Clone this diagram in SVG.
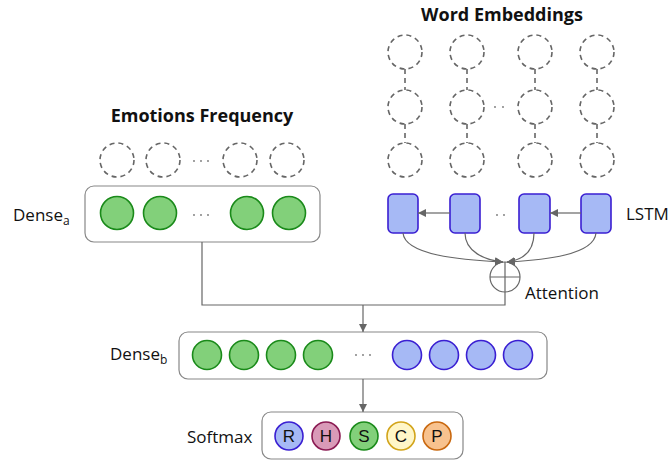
<svg xmlns="http://www.w3.org/2000/svg" width="670" height="460" viewBox="0 0 670 460">
<defs>
<marker id="ah" viewBox="0 0 10 10" refX="10" refY="5" markerWidth="8" markerHeight="8" markerUnits="userSpaceOnUse" orient="auto">
<path d="M0,0 L10,5 L0,10 z" fill="#666"/>
</marker>
<style>
.t{font-family:"Open Sans","Noto Sans",sans-serif;font-size:17px;fill:#111}
.tb{font-family:"Open Sans","Noto Sans",sans-serif;font-size:18px;font-weight:bold;fill:#111}
.sub{font-family:"Open Sans","Noto Sans",sans-serif;font-size:12px;fill:#111}
.lt{font-family:"Liberation Sans",Arial,sans-serif;font-size:17px;fill:#111;text-anchor:middle}
.dash{fill:none;stroke:#666;stroke-width:1.6;stroke-dasharray:5 4}
.box{fill:#fff;stroke:#888;stroke-width:1.2}
.g{fill:#82d07a;stroke:#1a8a1a;stroke-width:1.6}
.b{fill:#a6b9f5;stroke:#3a1fd2;stroke-width:1.6}
.h{fill:#d99ab8;stroke:#8a1a52;stroke-width:1.6}
.c{fill:#fff6c8;stroke:#d2a41a;stroke-width:1.6}
.p{fill:#f8c28e;stroke:#c9680f;stroke-width:1.6}
.ln{fill:none;stroke:#666;stroke-width:1.2}
.dot{fill:#777}
</style>
</defs>

<g id="word-embeddings">
<text class="tb" x="502" y="21" text-anchor="middle">Word Embeddings</text>
<circle class="dash" cx="405" cy="52" r="17"/><circle class="dash" cx="405" cy="107" r="17"/><circle class="dash" cx="405" cy="160" r="17"/>
<circle class="dash" cx="467" cy="52" r="17"/><circle class="dash" cx="467" cy="107" r="17"/><circle class="dash" cx="467" cy="160" r="17"/>
<circle class="dash" cx="535" cy="52" r="17"/><circle class="dash" cx="535" cy="107" r="17"/><circle class="dash" cx="535" cy="160" r="17"/>
<circle class="dash" cx="597" cy="52" r="17"/><circle class="dash" cx="597" cy="107" r="17"/><circle class="dash" cx="597" cy="160" r="17"/>
<path class="dash" d="M405,69V90M405,124V143M467,69V90M467,124V143M535,69V90M535,124V143M597,69V90M597,124V143" stroke-dasharray="6 5"/>
<circle class="dot" cx="495" cy="107" r="0.9"/><circle class="dot" cx="503" cy="107" r="0.9"/>
</g>

<g id="emotions-frequency">
<text class="tb" x="202" y="122" text-anchor="middle">Emotions Frequency</text>
<circle class="dash" cx="117" cy="160" r="17"/><circle class="dash" cx="163" cy="160" r="17"/>
<circle class="dash" cx="240" cy="160" r="17"/><circle class="dash" cx="287" cy="160" r="17"/>
<circle class="dot" cx="194" cy="161" r="0.9"/><circle class="dot" cx="201" cy="161" r="0.9"/><circle class="dot" cx="208" cy="161" r="0.9"/>
</g>

<g id="dense-a">
<rect class="box" x="85" y="186" width="235" height="56" rx="9"/>
<circle class="g" cx="117" cy="213" r="16.5"/><circle class="g" cx="160" cy="213" r="16.5"/>
<circle class="g" cx="247" cy="213" r="16.5"/><circle class="g" cx="289" cy="213" r="16.5"/>
<circle class="dot" cx="194" cy="215" r="0.9"/><circle class="dot" cx="201" cy="215" r="0.9"/><circle class="dot" cx="208" cy="215" r="0.9"/>
<text class="t" x="13" y="221">Dense<tspan class="sub" dy="4">a</tspan></text>
</g>

<g id="lstm">
<rect class="b" x="388" y="194" width="30" height="39" rx="5"/>
<rect class="b" x="450" y="194" width="30" height="39" rx="5"/>
<rect class="b" x="519" y="194" width="31" height="39" rx="5"/>
<rect class="b" x="581" y="194" width="30" height="39" rx="5"/>
<circle class="dot" cx="497" cy="215" r="0.9"/><circle class="dot" cx="504" cy="215" r="0.9"/>
<text class="t" x="626" y="220">LSTM</text>
</g>

<g id="attention">
<circle cx="505" cy="277" r="15" fill="#fff" stroke="#666" stroke-width="1.2"/>
<path class="ln" d="M490,277H520M505,262V292"/>
<text class="t" x="525" y="299">Attention</text>
</g>

<g id="dense-b">
<rect class="box" x="179" y="332" width="368" height="47" rx="9"/>
<circle class="g" cx="207" cy="355" r="14.5"/><circle class="g" cx="244" cy="355" r="14.5"/>
<circle class="g" cx="281" cy="355" r="14.5"/><circle class="g" cx="318" cy="355" r="14.5"/>
<circle class="b" cx="407" cy="355" r="14.5"/><circle class="b" cx="444" cy="355" r="14.5"/>
<circle class="b" cx="481" cy="355" r="14.5"/><circle class="b" cx="518" cy="355" r="14.5"/>
<circle class="dot" cx="356" cy="355" r="0.9"/><circle class="dot" cx="363" cy="355" r="0.9"/><circle class="dot" cx="370" cy="355" r="0.9"/>
<text class="t" x="110" y="360">Dense<tspan class="sub" dy="4">b</tspan></text>
</g>

<g id="softmax">
<rect class="box" x="262" y="412" width="201" height="47" rx="9"/>
<circle class="b" cx="289" cy="436" r="14"/><text class="lt" x="289" y="442">R</text>
<circle class="h" cx="326" cy="436" r="14"/><text class="lt" x="326" y="442">H</text>
<circle class="g" cx="364" cy="436" r="14"/><text class="lt" x="364" y="442">S</text>
<circle class="c" cx="401" cy="436" r="14"/><text class="lt" x="401" y="442">C</text>
<circle class="p" cx="437" cy="436" r="14"/><text class="lt" x="437" y="442">P</text>
<text class="t" x="187" y="443">Softmax</text>
</g>

<g id="connectors">
<path class="ln" d="M450,213H418" marker-end="url(#ah)"/>
<path class="ln" d="M581,213H550" marker-end="url(#ah)"/>
<path class="ln" d="M403,233C405,255 460,260 503,262" marker-end="url(#ah)"/>
<path class="ln" d="M465,233C465,252 485,260 503,262" marker-end="url(#ah)"/>
<path class="ln" d="M534,233C534,252 522,260 507,262" marker-end="url(#ah)"/>
<path class="ln" d="M596,233C594,255 545,260 507,262" marker-end="url(#ah)"/>
<path class="ln" d="M505,292V305H202V242"/>
<path class="ln" d="M363,305V332" marker-end="url(#ah)"/>
<path class="ln" d="M363,379V412" marker-end="url(#ah)"/>
</g>
</svg>
